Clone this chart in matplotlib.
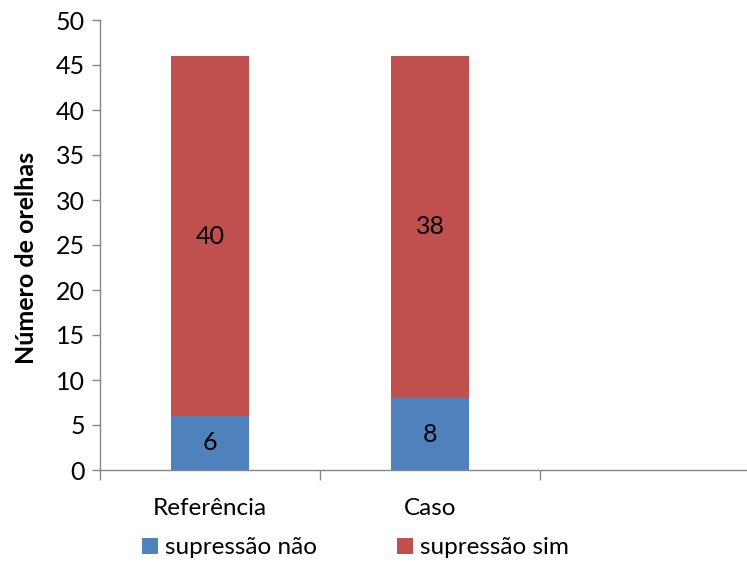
import numpy as np
import matplotlib.pyplot as plt

plt.rcParams['font.family'] = ['Lato', 'DejaVu Sans']

categories = ['Referência', 'Caso', '']
nao = [6, 8, 0]
sim = [40, 38, 0]
series_names = ['supressão não', 'supressão sim']
colors = ['#4F81BD', '#C0504D']

fig = plt.figure(figsize=(7.47, 5.63), dpi=100)
ax = fig.add_axes([100/747, 1 - 470/563, 660/747, 450/563])

x = np.arange(len(categories))
n_bars = 2
b1 = ax.bar(x[:n_bars], nao[:n_bars], width=0.355, color=colors[0], label=series_names[0])
b2 = ax.bar(x[:n_bars], sim[:n_bars], width=0.355, bottom=nao[:n_bars], color=colors[1], label=series_names[1])

for i in range(n_bars):
    ax.text(x[i], nao[i] / 2, str(nao[i]), ha='center', va='center', fontsize=18)
    ax.text(x[i], nao[i] + sim[i] / 2, str(sim[i]), ha='center', va='center', fontsize=18)

ax.set_xlim(-0.5, 2.5)
ax.set_ylim(0, 50)
ax.set_yticks(np.arange(0, 51, 5))
ax.set_xticks([-0.5, 0.5, 1.5, 2.5])
ax.set_xticklabels([])
ax.set_xticks(x[:n_bars], minor=True)
ax.set_xticklabels(categories[:n_bars], minor=True, fontsize=17.5)
ax.tick_params(axis='x', which='minor', length=0, pad=20)
ax.tick_params(axis='x', which='major', length=7, color='#868686', width=1)
ax.tick_params(axis='y', length=6, color='#868686', width=1, labelsize=18, pad=5)

for s in ['top', 'right']:
    ax.spines[s].set_visible(False)
for s in ['left', 'bottom']:
    ax.spines[s].set_color('#868686')
    ax.spines[s].set_linewidth(1)

ax.set_ylabel('Número de orelhas', fontsize=18, fontweight='bold')
ax.yaxis.set_label_coords(-0.094, 0.471)

fig.legend(handles=[b1, b2], loc='center', bbox_to_anchor=(0.476, 1 - 548/563),
           ncol=2, frameon=False, fontsize=17.5, handlelength=0.65, handleheight=0.65,
           handletextpad=0.3, columnspacing=3.3, bbox_transform=fig.transFigure)

fig.savefig('out.png', dpi=100)
